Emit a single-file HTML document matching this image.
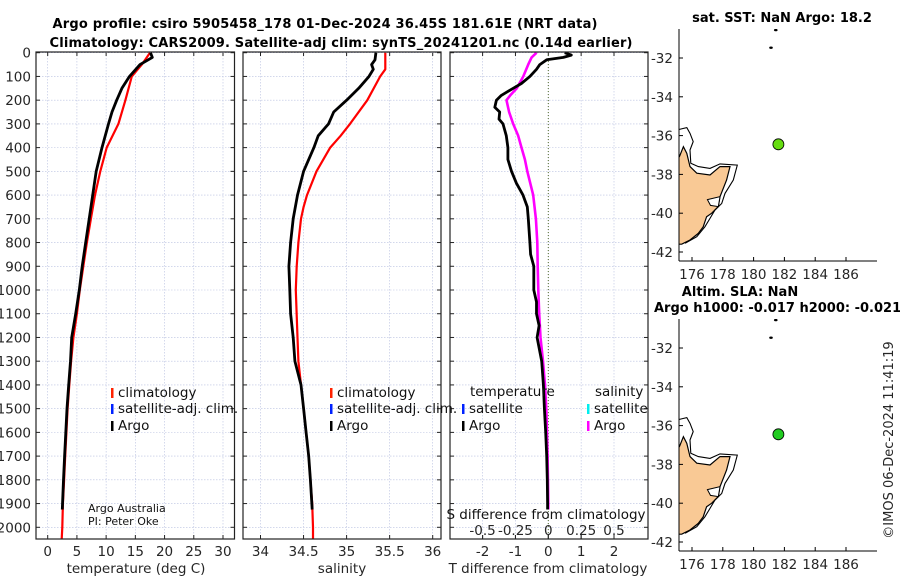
<!DOCTYPE html>
<html><head><meta charset="utf-8"><style>
html,body{margin:0;padding:0;background:#fff;width:900px;height:580px;overflow:hidden}
svg text{font-family:"DejaVu Sans","Liberation Sans",sans-serif}
</style></head><body>
<svg id="c" width="900" height="580" xmlns="http://www.w3.org/2000/svg"></svg>
<script>
// ---- data ----
const depthTClim = [0,50,100,200,300,400,500,600,700,800,900,1000,1100,1200,1300,1400,1500,1600,1700,1800,1900,2000,2050];
const tempClim = [17.5,16.1,14.4,13.3,12.1,10.1,9.0,8.1,7.4,6.7,6.1,5.5,5.0,4.4,4.0,3.7,3.4,3.2,3.0,2.8,2.6,2.5,2.4];
const depthTArgo = [0,20,50,100,150,200,250,300,400,500,600,700,800,900,1000,1100,1200,1300,1400,1500,1600,1700,1800,1925];
const tempArgo = [17.6,17.9,15.8,14.0,12.7,11.8,11.0,10.4,9.3,8.3,7.7,7.1,6.5,5.9,5.4,4.8,4.1,3.9,3.6,3.3,3.1,2.9,2.7,2.5];
const depthSClim = [0,70,100,200,300,350,400,500,600,650,700,800,900,1000,1200,1300,1400,1500,1600,1700,1800,1900,2000,2050];
const salClim = [35.45,35.45,35.39,35.24,35.04,34.93,34.81,34.65,34.54,34.5,34.47,34.44,34.42,34.41,34.43,34.44,34.47,34.5,34.53,34.56,34.58,34.6,34.61,34.61];
const depthSArgo = [0,30,50,70,100,150,200,250,300,350,400,500,600,700,800,900,1000,1100,1200,1300,1400,1500,1600,1700,1800,1925];
const salArgo = [35.34,35.33,35.29,35.31,35.26,35.14,35.0,34.85,34.79,34.67,34.62,34.5,34.43,34.38,34.35,34.33,34.34,34.35,34.38,34.40,34.47,34.5,34.53,34.56,34.58,34.6];
const depthDT = [0,10,20,30,50,70,100,130,150,180,200,230,250,280,300,350,400,450,500,550,600,650,700,800,850,900,1000,1050,1100,1150,1200,1300,1400,1500,1600,1700,1800,1900,1925];
const dTArgo = [0.5,0.7,0.46,-0.05,-0.26,-0.36,-0.56,-0.82,-1.07,-1.43,-1.58,-1.63,-1.48,-1.50,-1.38,-1.28,-1.23,-1.23,-1.12,-0.97,-0.77,-0.64,-0.61,-0.56,-0.54,-0.44,-0.44,-0.36,-0.36,-0.28,-0.34,-0.2,-0.15,-0.12,-0.08,-0.05,-0.03,-0.02,-0.02];
const depthDS = [0,20,50,100,150,180,200,250,300,350,400,450,500,600,700,800,900,1000,1100,1200,1300,1400,1500,1600,1700,1900,1925];
const dSArgo = [-0.089,-0.127,-0.153,-0.19,-0.24,-0.29,-0.318,-0.298,-0.267,-0.229,-0.204,-0.178,-0.16,-0.115,-0.094,-0.084,-0.081,-0.076,-0.069,-0.059,-0.04,-0.025,-0.015,-0.01,-0.005,0,0];
const depthTicks = [0,100,200,300,400,500,600,700,800,900,1000,1100,1200,1300,1400,1500,1600,1700,1800,1900,2000];
const tempTicks = [0,5,10,15,20,25,30];
const salTicks = [34,34.5,35,35.5,36];
const salTickLabels = ["34","34.5","35","35.5","36"];
const dTTicks = [-2,-1,0,1,2];
const dSTicks = [-0.5,-0.25,0,0.25,0.5];
const dSTickLabels = ["-0.5","-0.25","0","0.25","0.5"];
const lonTicks = [176,178,180,182,184,186];
const latTicks = [-32,-34,-36,-38,-40,-42];
const argoLon = 181.61, argoLat = -36.45;
const landLon = [175.0,175.18,175.44,175.66,175.87,176.31,177.17,177.82,178.47,178.25,177.82,177.71,177.28,176.95,176.73,176.41,175.87,175.33,175.0];
const landLat = [-37.09,-37.09,-36.57,-36.91,-37.6,-37.94,-38.03,-37.6,-37.6,-38.29,-39.15,-39.66,-40.0,-40.18,-40.7,-41.04,-41.38,-41.6,-41.6];
const coastLon = [175.18,175.66,175.87,176.08,175.87,175.92,176.41,177.17,177.82,178.94,178.68,178.14,177.93,177.49,177.17,176.84,176.31,175.55];
const coastLat = [-35.68,-35.59,-35.88,-36.31,-36.74,-37.43,-37.6,-37.69,-37.46,-37.52,-38.29,-38.98,-39.5,-39.84,-40.27,-40.7,-41.21,-41.55];
const lakeLon = [177.0,177.82,177.71,177.2];
const lakeLat = [-39.3,-39.15,-39.66,-39.6];
const islLon = [181.44,181.13], islLat = [-30.56,-31.47];

// ---- helpers ----
const NS="http://www.w3.org/2000/svg", svg=document.getElementById('c');
const FS=13.5;
function mk(tag,at,parent){const e=document.createElementNS(NS,tag);for(const k in at)e.setAttribute(k,at[k]);(parent||svg).appendChild(e);return e;}
function txt(s,x,y,at,parent){const e=mk('text',Object.assign({x:x,y:y,'font-size':FS,fill:'#262626'},at||{}),parent);e.textContent=s;return e;}
function lin(d0,d1,r0,r1){return v=>r0+(v-d0)/(d1-d0)*(r1-r0);}
const yD = lin(0,2000,52.7,527.3);
const pTop=52, pBot=539;
function line(xs,ys,fx,fy,color,w,name){
  const p=xs.map((v,i)=>fx(v).toFixed(1)+','+fy(ys[i]).toFixed(1)).join(' ');
  const e=mk('polyline',{points:p,fill:'none',stroke:color,'stroke-width':w,'stroke-linejoin':'round'});
  
  
  return e;
}
function panel(x0,x1,fx,xt,xl,name,ylabels){
  const g=mk('g',{});
  
  
  xt.forEach(v=>{const x=fx(v);mk('line',{x1:x,x2:x,y1:pTop,y2:pBot,stroke:'#b8c0e0','stroke-width':0.6,'stroke-dasharray':'1.5,1.5'},g);
    mk('line',{x1:x,x2:x,y1:pBot,y2:pBot-4,stroke:'#222'},g);mk('line',{x1:x,x2:x,y1:pTop,y2:pTop+4,stroke:'#222'},g);});
  depthTicks.forEach(d=>{const y=yD(d);mk('line',{x1:x0,x2:x1,y1:y,y2:y,stroke:'#b8c0e0','stroke-width':0.6,'stroke-dasharray':'1.5,1.5'},g);
    mk('line',{x1:x0,x2:x0+4,y1:y,y2:y,stroke:'#222'},g);mk('line',{x1:x1,x2:x1-4,y1:y,y2:y,stroke:'#222'},g);
    if(ylabels){const t=txt(String(d),x0-5,y+5,{'text-anchor':'end'},g);}});
  if(xl) xt.forEach((v,i)=>{const t=txt(xl[i],fx(v),556,{'text-anchor':'middle'});});
  return g;
}
function box(x0,x1){mk('rect',{x:x0,y:pTop,width:x1-x0,height:pBot-pTop,fill:'none',stroke:'#222','stroke-width':1.2});}

// ---- titles ----
let t=txt('Argo profile: csiro 5905458_178 01-Dec-2024 36.45S 181.61E (NRT data)',325,28,{'text-anchor':'middle','font-weight':'bold','font-size':13,fill:'#000',textLength:545});

t=txt('Climatology: CARS2009. Satellite-adj clim: synTS_20241201.nc (0.14d earlier)',341,47,{'text-anchor':'middle','font-weight':'bold','font-size':13,fill:'#000',textLength:583});


// ---- panel 1 temperature ----
const xT=lin(0,30,47.7,223);
panel(36,234.5,xT,tempTicks,tempTicks.map(String),'temperature-panel',true);
line(tempClim,depthTClim,xT,yD,'#ff0000',2.2,'temperature-climatology-line');
line(tempArgo,depthTArgo,xT,yD,'#000',2.8,'temperature-argo-line');
box(36,234.5);
t=txt('temperature (deg C)',136,573,{'text-anchor':'middle'});

// ---- panel 2 salinity ----
const xS=lin(34,36,260.5,432.7);
panel(243,441,xS,salTicks,salTickLabels,'salinity-panel',false);
line(salClim,depthSClim,xS,yD,'#ff0000',2.2,'salinity-climatology-line');
line(salArgo,depthSArgo,xS,yD,'#000',2.8,'salinity-argo-line');
box(243,441);
t=txt('salinity',342,573,{'text-anchor':'middle'});

// ---- panel 3 differences ----
const xdT=lin(0,2,548.3,614), xdS=lin(0,0.5,548.3,614);
panel(450,648,xdT,dTTicks,dTTicks.map(String),'difference-panel',false);
mk('line',{x1:xdT(0),x2:xdT(0),y1:pTop,y2:pBot,stroke:'#556b2f','stroke-width':1,'stroke-dasharray':'1,2'});
line(dSArgo,depthDS,xdS,yD,'#ff00ff',2.6,'salinity-difference-line');
line(dTArgo,depthDT,xdT,yD,'#000',2.8,'temperature-difference-line');
dSTicks.forEach((v,i)=>{const x=xdS(v);mk('line',{x1:x,x2:x,y1:pBot,y2:pBot-4,stroke:'#222'});const e=txt(dSTickLabels[i],x,535,{'text-anchor':'middle'});});
t=txt('S difference from climatology',546,519,{'text-anchor':'middle',fill:'#111'});
box(450,648);
t=txt('T difference from climatology',548,573,{'text-anchor':'middle'});

// ---- legends ----
function leg(x,y,color,label,name){const g=mk('g',{});
  mk('rect',{x:x,y:y-9,width:2.5,height:10,fill:color},g);txt(label,x+7,y,{'font-size':13.5,fill:'#111'},g);return g;}
leg(111,397,'#ff2200','climatology','legend-climatology-temp');
leg(111,413,'#0022ff','satellite-adj. clim.','legend-satellite-temp');
leg(111,430,'#000','Argo','legend-argo-temp');
leg(330,397,'#ff2200','climatology','legend-climatology-sal');
leg(330,413,'#0022ff','satellite-adj. clim.','legend-satellite-sal');
leg(330,430,'#000','Argo','legend-argo-sal');
t=txt('temperature',470,396,{'font-size':13.5,fill:'#111'});
t=txt('salinity',595,396,{'font-size':13.5,fill:'#111'});
leg(462,413,'#0022ff','satellite','legend-satellite-tdiff');
leg(462,430,'#000','Argo','legend-argo-tdiff');
leg(587,413,'#00eeee','satellite','legend-satellite-sdiff');
leg(587,430,'#ff00ff','Argo','legend-argo-sdiff');
t=txt('Argo Australia',88,512,{'font-size':11,fill:'#111'});
t=txt('PI: Peter Oke',88,525,{'font-size':11,fill:'#111'});

// ---- maps ----
function map(ax0,ayTop,ayBot,yLat32,dotColor,name){
  const fx=lin(176,186,692,846), fy=lin(-32,-42,yLat32,yLat32+194);
  const g=mk('g',{});
  const cid='clip'+name;const cp=mk('clipPath',{id:cid},g);mk('rect',{x:ax0,y:ayTop,width:877-ax0,height:ayBot-ayTop},cp);
  const inner=mk('g',{'clip-path':'url(#'+cid+')'},g);
  const pts=(lo,la)=>lo.map((v,i)=>fx(v).toFixed(1)+','+fy(la[i]).toFixed(1)).join(' ');
  const land=mk('polygon',{points:pts(landLon,landLat),fill:'#f9c995',stroke:'#000','stroke-width':1.2},inner);
  
  mk('polyline',{points:pts(coastLon,coastLat),fill:'none',stroke:'#000','stroke-width':1.1},inner);
  mk('polygon',{points:pts(lakeLon,lakeLat),fill:'#fff',stroke:'#000','stroke-width':1},inner);
  islLon.forEach((v,i)=>mk('ellipse',{cx:fx(v),cy:fy(islLat[i]),rx:1.8,ry:1.2,fill:'#000'},inner));
  const dot=mk('circle',{cx:fx(argoLon),cy:fy(argoLat),r:5.5,fill:dotColor,stroke:'#000','stroke-width':0.8},inner);
  
  mk('line',{x1:ax0,x2:ax0,y1:ayTop,y2:ayBot,stroke:'#000','stroke-width':1},g);
  mk('line',{x1:ax0,x2:877,y1:ayBot,y2:ayBot,stroke:'#000','stroke-width':1},g);
  lonTicks.forEach(v=>{const x=fx(v);mk('line',{x1:x,x2:x,y1:ayBot,y2:ayBot-4,stroke:'#000'},g);txt(String(v),x,ayBot+18,{'text-anchor':'middle'},g);});
  latTicks.forEach(v=>{const y=fy(v);mk('line',{x1:ax0,x2:ax0+4,y1:y,y2:y,stroke:'#000'},g);txt(String(v),ax0-6,y+5,{'text-anchor':'end'},g);});
}
map(679,29,261,58,'#66dd11','map-sst');
map(679,319,551,348,'#22cc22','map-sla');
t=txt('sat. SST: NaN Argo: 18.2',782,22,{'text-anchor':'middle','font-weight':'bold','font-size':13,fill:'#000'});
t=txt('Altim. SLA: NaN',740,296,{'text-anchor':'middle','font-weight':'bold','font-size':13,fill:'#000'});
t=txt('Argo h1000: -0.017 h2000: -0.021',654,312,{'font-weight':'bold','font-size':13,fill:'#000'});
t=txt('©IMOS 06-Dec-2024 11:41:19',893,440,{'text-anchor':'middle','font-size':13,transform:'rotate(-90 893 440)'});
</script>
</body></html>
